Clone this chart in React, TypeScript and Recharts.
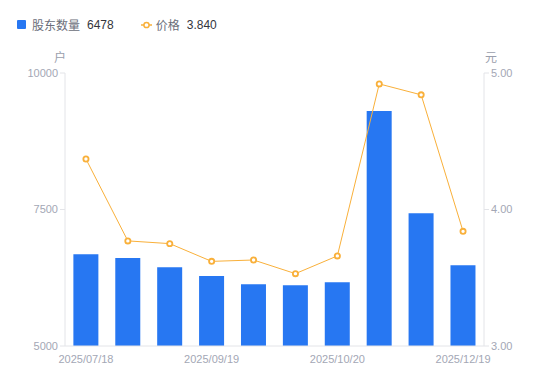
import React from "react";
import { ComposedChart, Bar, Line, XAxis, YAxis } from "recharts";

const dates = [
    "2025/07/18", "2025/07/31", "2025/08/29", "2025/09/19", "2025/09/30",
    "2025/10/10", "2025/10/20", "2025/10/31", "2025/11/28", "2025/12/19",
];
const holders = [6680, 6612, 6441, 6282, 6130, 6111, 6166, 9304, 7430, 6478];
const prices = [4.37, 3.77, 3.75, 3.62, 3.63, 3.53, 3.66, 4.92, 4.84, 3.84];
const holderTicks = [5000, 7500, 10000];
const priceTicks = [3, 4, 5];

const BLUE = "#2777f2";
const ORANGE = "#f9b03a";
const LATIN = "'Liberation Sans', Arial, sans-serif";
const TICK = { fontSize: 11, fill: "#a3a7b5", fontFamily: LATIN };
const CJK = "'Noto Sans CJK SC', 'Liberation Sans', sans-serif";

const data = dates.map((d, i) => ({ date: d, holders: holders[i], price: prices[i] }));

export default function App() {
    const last = data.length - 1;
    return (
        <div style={{ position: "absolute", left: 0, top: 0, width: 550, height: 381, background: "#fff", fontFamily: CJK }}>
            <div style={{ position: "absolute", left: 17, top: 16, height: 17, display: "flex", alignItems: "center", fontSize: 12, whiteSpace: "nowrap" }}>
                <span style={{ width: 9, height: 9, background: BLUE, borderRadius: 1, marginRight: 6 }} />
                <span style={{ color: "#6b6e7a" }}>股东数量</span>
                <span style={{ color: "#33353d", marginLeft: 7, fontFamily: LATIN }}>{holders[last]}</span>
                <svg width={11} height={10} style={{ marginLeft: 27, marginRight: 4 }}>
                    <line x1={0} y1={5} x2={11} y2={5} stroke={ORANGE} strokeWidth={1.5} />
                    <circle cx={5.5} cy={5} r={2.6} fill="#fff" stroke={ORANGE} strokeWidth={1.5} />
                </svg>
                <span style={{ color: "#6b6e7a" }}>价格</span>
                <span style={{ color: "#33353d", marginLeft: 7, fontFamily: LATIN }}>{prices[last].toFixed(3)}</span>
            </div>
            <div style={{ position: "absolute", left: 54, top: 48, fontSize: 12, color: "#9a9eac" }}>户</div>
            <div style={{ position: "absolute", left: 485, top: 48, fontSize: 12, color: "#9a9eac" }}>元</div>
            <ComposedChart width={550} height={381} data={data} margin={{ top: 73, right: 0, bottom: 14, left: 0 }} barCategoryGap="20%">
                <XAxis
                    dataKey="date"
                    interval={2}
                    tickLine={false}
                    axisLine={{ stroke: "#e3e4e8" }}
                    tick={TICK}
                    height={21}
                    tickMargin={3}
                />
                <YAxis
                    yAxisId="left"
                    domain={[5000, 10000]}
                    ticks={holderTicks}
                    width={65}
                    axisLine={{ stroke: "#e3e4e8" }}
                    tickLine={{ stroke: "#e3e4e8" }}
                    tickSize={5}
                    tickMargin={2}
                    tick={TICK}
                />
                <YAxis
                    yAxisId="right"
                    orientation="right"
                    domain={[3, 5]}
                    ticks={priceTicks}
                    tickFormatter={(v: number) => v.toFixed(2)}
                    width={66}
                    axisLine={{ stroke: "#e3e4e8" }}
                    tickLine={{ stroke: "#e3e4e8" }}
                    tickSize={5}
                    tickMargin={2}
                    tick={TICK}
                />
                <Bar yAxisId="left" dataKey="holders" fill={BLUE} isAnimationActive={false} />
                <Line
                    yAxisId="right"
                    dataKey="price"
                    type="linear"
                    stroke={ORANGE}
                    strokeWidth={1}
                    dot={{ r: 2.6, fill: "#fff", stroke: ORANGE, strokeWidth: 1.8 }}
                    isAnimationActive={false}
                />
            </ComposedChart>
        </div>
    );
}
